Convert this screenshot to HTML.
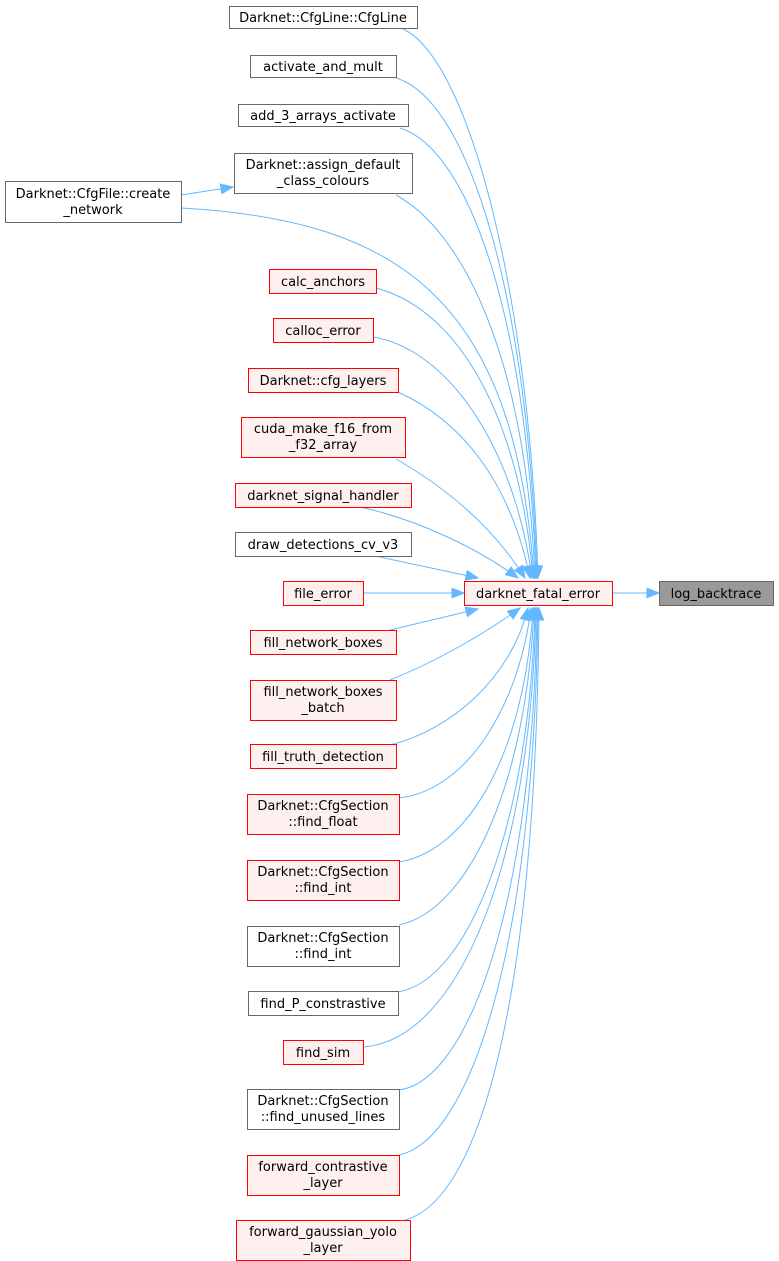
<!DOCTYPE html>
<html><head><meta charset="utf-8"><style>body{margin:0;background:#fff}svg{display:block}text{font-family:"DejaVu Sans","Liberation Sans",sans-serif;font-size:13px;fill:#000}</style></head><body>
<svg width="779" height="1261" viewBox="0 0 779 1261" xmlns="http://www.w3.org/2000/svg">
<defs>
<marker id="b" viewBox="0 0 10 10" refX="9" refY="5" markerWidth="14" markerHeight="14" markerUnits="userSpaceOnUse" orient="auto"><path d="M0,1 L10,5 L0,9 z" fill="#63b8ff"/></marker></defs>
<g fill="none" stroke="#63b8ff" stroke-width="1">
<path d="M403,29 C470,60 530,300 538,578" marker-end="url(#b)"/>
<path d="M396,78 C470,100 528,300 537,578" marker-end="url(#b)"/>
<path d="M400,128 C470,150 527,320 536,578" marker-end="url(#b)"/>
<path d="M396,195 C460,230 525,350 535,578" marker-end="url(#b)"/>
<path d="M181,208 C400,220 515,300 534,578" marker-end="url(#b)"/>
<path d="M376,288 C460,310 520,420 533,578" marker-end="url(#b)"/>
<path d="M373,337 C450,350 515,450 532,578" marker-end="url(#b)"/>
<path d="M398,392 C460,420 510,480 530,578" marker-end="url(#b)"/>
<path d="M396,459 C450,490 495,530 525,578" marker-end="url(#b)"/>
<path d="M360,507 C420,520 480,550 518,578" marker-end="url(#b)"/>
<path d="M380,557 L478,578" marker-end="url(#b)"/>
<path d="M363,593 L464,593" marker-end="url(#b)"/>
<path d="M390,630 L478,609" marker-end="url(#b)"/>
<path d="M390,680 C440,660 490,630 520,608" marker-end="url(#b)"/>
<path d="M390,745 C450,730 510,680 528,608" marker-end="url(#b)"/>
<path d="M399,798 C470,790 520,700 531,608" marker-end="url(#b)"/>
<path d="M399,862 C470,850 525,750 533,608" marker-end="url(#b)"/>
<path d="M399,925 C470,910 527,780 534,608" marker-end="url(#b)"/>
<path d="M398,992 C470,980 530,820 535,608" marker-end="url(#b)"/>
<path d="M363,1047 C460,1040 531,860 536,608" marker-end="url(#b)"/>
<path d="M399,1090 C470,1080 533,900 537,608" marker-end="url(#b)"/>
<path d="M399,1155 C470,1140 534,950 538,608" marker-end="url(#b)"/>
<path d="M405,1220 C480,1200 536,1000 539,608" marker-end="url(#b)"/>
<path d="M181,195 L233,187" marker-end="url(#b)"/>
<path d="M612,593 L659,593" marker-end="url(#b)"/>
</g>
<g stroke-width="1">
<g fill="#fff" stroke="#666">
<rect x="229.5" y="6.5" width="188" height="22"/>
<rect x="250.5" y="55.5" width="146" height="22"/>
<rect x="238.5" y="104.5" width="170" height="22"/>
<rect x="234.5" y="153.5" width="178" height="40"/>
<rect x="5.5" y="181.5" width="176" height="41"/>
<rect x="235.5" y="532.5" width="176" height="24"/>
<rect x="247.5" y="926.5" width="152" height="40"/>
<rect x="248.5" y="991.5" width="150" height="24"/>
<rect x="247.5" y="1089.5" width="152" height="40"/>
</g>
<g fill="#fff0f0" stroke="#f00">
<rect x="269.5" y="269.5" width="107" height="24"/>
<rect x="273.5" y="318.5" width="100" height="24"/>
<rect x="248.5" y="368.5" width="150" height="24"/>
<rect x="241.5" y="417.5" width="164" height="40"/>
<rect x="235.5" y="483.5" width="176" height="24"/>
<rect x="283.5" y="581.5" width="80" height="24"/>
<rect x="250.5" y="630.5" width="146" height="24"/>
<rect x="250.5" y="680.5" width="146" height="40"/>
<rect x="250.5" y="744.5" width="146" height="24"/>
<rect x="247.5" y="794.5" width="152" height="40"/>
<rect x="247.5" y="860.5" width="152" height="40"/>
<rect x="283.5" y="1040.5" width="80" height="24"/>
<rect x="247.5" y="1155.5" width="152" height="40"/>
<rect x="236.5" y="1220.5" width="174" height="40"/>
<rect x="464.5" y="581.5" width="148" height="24"/>
</g>
<rect x="659.5" y="581.5" width="114" height="24" fill="#999" stroke="#666"/>
</g>
<g text-anchor="middle">
<text x="323" y="22">Darknet::CfgLine::CfgLine</text>
<text x="323" y="71">activate_and_mult</text>
<text x="323" y="120">add_3_arrays_activate</text>
<text x="323" y="169">Darknet::assign_default</text>
<text x="323" y="185">_class_colours</text>
<text x="93" y="198">Darknet::CfgFile::create</text>
<text x="93" y="214">_network</text>
<text x="323" y="286">calc_anchors</text>
<text x="323" y="335">calloc_error</text>
<text x="323" y="385">Darknet::cfg_layers</text>
<text x="323" y="433">cuda_make_f16_from</text>
<text x="323" y="449">_f32_array</text>
<text x="323" y="500">darknet_signal_handler</text>
<text x="323" y="549">draw_detections_cv_v3</text>
<text x="323" y="598">file_error</text>
<text x="323" y="647">fill_network_boxes</text>
<text x="323" y="696">fill_network_boxes</text>
<text x="323" y="712">_batch</text>
<text x="323" y="761">fill_truth_detection</text>
<text x="323" y="810">Darknet::CfgSection</text>
<text x="323" y="826">::find_float</text>
<text x="323" y="876">Darknet::CfgSection</text>
<text x="323" y="892">::find_int</text>
<text x="323" y="942">Darknet::CfgSection</text>
<text x="323" y="958">::find_int</text>
<text x="323" y="1008">find_P_constrastive</text>
<text x="323" y="1057">find_sim</text>
<text x="323" y="1105">Darknet::CfgSection</text>
<text x="323" y="1121">::find_unused_lines</text>
<text x="323" y="1171">forward_contrastive</text>
<text x="323" y="1187">_layer</text>
<text x="323" y="1236">forward_gaussian_yolo</text>
<text x="323" y="1252">_layer</text>
<text x="538" y="598">darknet_fatal_error</text>
<text x="716" y="598">log_backtrace</text>
</g>
</svg>
</body></html>
